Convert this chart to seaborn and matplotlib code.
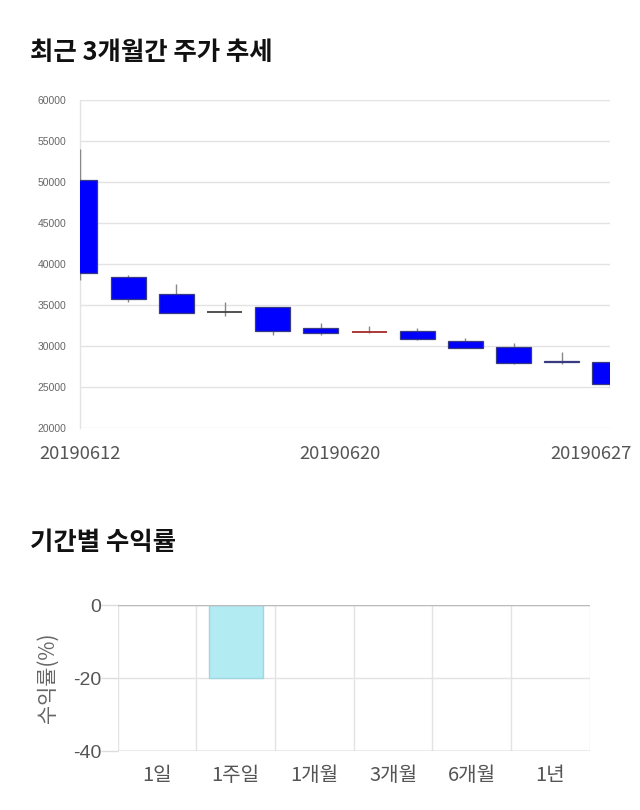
import numpy as np
import pandas as pd
import matplotlib
matplotlib.use("Agg")
import matplotlib.pyplot as plt
import seaborn as sns

# ---- data ----
dates = ["20190612", "20190613", "20190614", "20190617", "20190618", "20190619",
         "20190620", "20190621", "20190624", "20190625", "20190626", "20190627"]
opens = [50250, 38450, 36300, 34150, 34800, 32150, 31750, 31850, 30650, 29900, 28200, 28000]
closes = [38950, 35700, 34050, 34150, 31850, 31550, 31750, 30900, 29800, 27950, 28000, 25350]
highs = [54000, 38650, 37550, 35350, 34800, 32750, 32450, 32150, 30950, 30400, 29300, 28000]
lows = [38000, 35400, 34050, 33600, 31300, 31350, 31550, 30750, 29800, 27800, 27800, 24850]
date_tick_labels = ["20190612", "20190620", "20190627"]
date_tick_pos = [0, 5.4, 10.6]
price_ticks = [20000, 25000, 30000, 35000, 40000, 45000, 50000, 55000, 60000]

periods = ["1일", "1주일", "1개월", "3개월", "6개월", "1년"]
returns = [0.0, -20.0, 0.0, 0.0, 0.0, 0.0]
return_ticks = [0, -20, -40]

sns.set_theme(style="white")
plt.rcParams['font.family'] = ['Noto Sans CJK KR', 'DejaVu Sans']

fig = plt.figure(figsize=(6.4, 8.1), dpi=100)

# ---- top: candlestick ----
ax1 = fig.add_axes([0.125, 0.4716, 0.828, 0.405])
x = np.arange(len(dates))
o = np.array(opens); c = np.array(closes); h = np.array(highs); l = np.array(lows)
ax1.vlines(x, l, h, color="#888888", linewidth=1.0, zorder=2.7)
body_bottom = np.minimum(o, c)
body_height = np.abs(o - c)
for i, (xi, bb, bh, oo, cc) in enumerate(zip(x, body_bottom, body_height, o, c)):
    if cc == oo:
        lc = "#a52a2a" if i == 6 else "#444444"
        ax1.hlines(oo, xi - 0.363, xi + 0.363, color=lc, linewidth=1.3, zorder=3)
    else:
        col = "#0000ff" if cc < oo else "#ff0000"
        ax1.bar(xi, bh, bottom=bb, width=0.726, color=col, edgecolor="#3a3a80",
                linewidth=0.9, zorder=3)
ax1.set_xlim(0, 11)
ax1.set_ylim(20000, 60000)
ax1.set_yticks(price_ticks)
ax1.set_yticklabels([str(t) for t in price_ticks], fontsize=7.5, color="#666666",
                    family=['Liberation Sans', 'DejaVu Sans'])
ax1.set_xticks(date_tick_pos)
ax1.set_xticklabels(date_tick_labels, fontsize=13.3, color="#555555")
ax1.tick_params(axis="both", length=0)
ax1.tick_params(axis="x", pad=12)
ax1.tick_params(axis="y", pad=10)
ax1.grid(axis="y", color="#e3e3e3", linewidth=1.0)
ax1.set_axisbelow(True)
for s in ["top", "right", "bottom"]:
    ax1.spines[s].set_visible(False)
ax1.spines["left"].set_color("#e3e3e3")
ax1.spines["left"].set_linewidth(1.0)

fig.text(30 / 640, 1 - 52 / 810, "최근 3개월간 주가 추세", fontsize=18.3, fontweight="bold",
         color="#111111", va="center", ha="left")

# ---- bottom: returns bar chart ----
ax2 = fig.add_axes([0.184, 0.0728, 0.7375, 0.1802])
df = pd.DataFrame({"period": periods, "ret": returns})
sns.barplot(data=df, x="period", y="ret", ax=ax2, color="#b2ebf2", width=0.69,
            edgecolor="#9fd6df", linewidth=1.0, saturation=1, zorder=3)
for p in ax2.patches:
    if p.get_height() == 0:
        p.set_linewidth(0)
ax2.set_ylim(-40, 0)
ax2.set_xlim(-0.5, 5.5)
ax2.set_yticks(return_ticks)
ax2.set_yticklabels([str(t) for t in return_ticks], fontsize=14, color="#555555",
                    family=['Liberation Sans', 'DejaVu Sans'])
ax2.set_xticks(range(len(periods)))
ax2.set_xticklabels(periods, fontsize=14.5, color="#555555")
ax2.set_xticks(np.arange(-0.5, 6, 1.0), minor=True)
ax2.tick_params(axis="x", which="major", length=0, pad=10)
ax2.tick_params(axis="x", which="minor", length=12, color="#e3e3e3", width=1.0)
ax2.tick_params(axis="y", length=12, color="#dddddd", width=1.0, pad=0, left=True)
ax2.grid(axis="x", which="minor", color="#e3e3e3", linewidth=1.0)
ax2.grid(axis="y", which="major", color="#e3e3e3", linewidth=1.0)
ax2.axhline(0, color="#bbbbbb", linewidth=1.0, zorder=4)
ax2.axhline(-40, color="#bbbbbb", linewidth=1.0, zorder=4)
ax2.set_axisbelow(True)
for s in ["top", "right", "bottom", "left"]:
    ax2.spines[s].set_visible(False)
ax2.set_xlabel("")
ax2.set_ylabel("수익률(%)", fontsize=15, color="#666666", labelpad=10)

fig.text(30 / 640, 1 - 543 / 810, "기간별 수익률", fontsize=18.3, fontweight="bold",
         color="#111111", va="center", ha="left")

fig.savefig("out.png", dpi=100)
